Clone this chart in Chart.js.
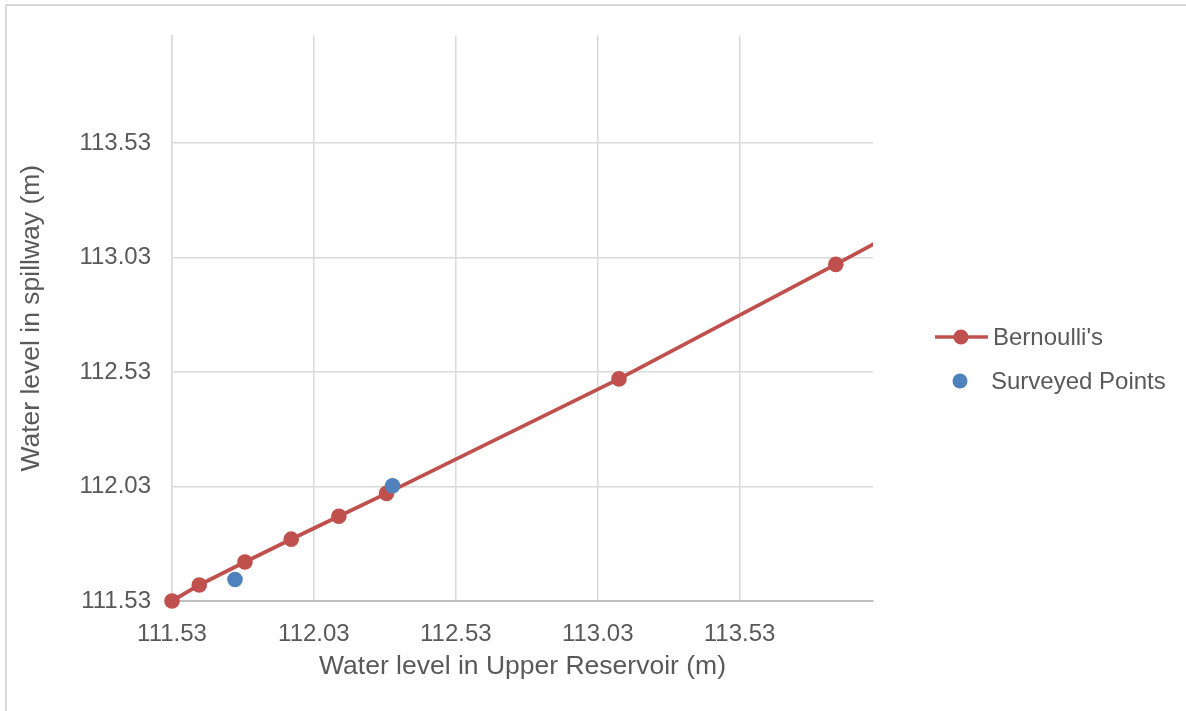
<!DOCTYPE html>
<html>
<head>
<meta charset="utf-8">
<script src="https://cdn.jsdelivr.net/npm/chart.js@4"></script>
<style>
  html, body { margin: 0; padding: 0; background: #fff; overflow: hidden; }
  #frame { position: absolute; left: 5px; top: 4px; width: 1200px; height: 720px;
           border-left: 2px solid #d9d9d9; border-top: 2px solid #d9d9d9; }
  #wrap { position: absolute; left: 0; top: 0; width: 1186px; height: 711px; }
</style>
</head>
<body>
<div id="frame"></div>
<div id="wrap"><canvas id="myChart"></canvas></div>
<script>
// Bernoulli's curve (last point lies beyond the axis, line runs to the edge)
const bernX = [111.53, 111.626, 111.787, 111.95, 112.118, 112.286, 113.105, 113.869, 114.62];
const bernY = [111.53, 111.6, 111.7, 111.8, 111.9, 112.0, 112.5, 113.0, 113.5];

// surveyed points
const surveyX = [111.752, 112.307];
const surveyY = [111.624, 112.033];

const tickValues = [111.53, 112.03, 112.53, 113.03, 113.53];
const axisMin = 111.53;
const axisMax = 114.0;

const textColor = '#595959';
const fontFamily = "'Liberation Sans', Arial, sans-serif";

function toPoints(xs, ys) {
    return xs.map((x, i) => ({ x: x, y: ys[i] }));
}

function setTicks(scale) {
    scale.ticks = tickValues.map(v => ({ value: v }));
}

// legend drawn at the right side, like Excel
const sideLegend = {
    id: 'sideLegend',
    afterDraw(chart) {
        const ctx = chart.ctx;
        const ds = chart.data.datasets;
        ctx.save();
        ctx.font = '24px ' + fontFamily;
        ctx.textBaseline = 'middle';
        ctx.fillStyle = textColor;

        // Bernoulli's: line with marker
        let y = 337;
        ctx.strokeStyle = ds[0].borderColor;
        ctx.lineWidth = 3.5;
        ctx.beginPath();
        ctx.moveTo(935, y);
        ctx.lineTo(988, y);
        ctx.stroke();
        ctx.fillStyle = ds[0].pointBackgroundColor;
        ctx.beginPath();
        ctx.arc(961, y, 7.5, 0, Math.PI * 2);
        ctx.fill();
        ctx.fillStyle = textColor;
        ctx.fillText(ds[0].label, 993, y + 1);

        // Surveyed Points: marker only
        y = 381;
        ctx.fillStyle = ds[1].pointBackgroundColor;
        ctx.beginPath();
        ctx.arc(960, y, 7.5, 0, Math.PI * 2);
        ctx.fill();
        ctx.fillStyle = textColor;
        ctx.fillText(ds[1].label, 991, y + 1);
        ctx.restore();
    }
};

const ctx = document.getElementById('myChart').getContext('2d');
const myChart = new Chart(ctx, {
    type: 'scatter',
    data: {
        datasets: [{
            label: "Bernoulli's",
            data: toPoints(bernX, bernY),
            showLine: true,
            borderColor: '#C0504D',
            backgroundColor: '#C0504D',
            pointBackgroundColor: '#C0504D',
            pointBorderColor: '#C0504D',
            borderWidth: 3.8,
            pointRadius: 7.8,
            pointBorderWidth: 0,
            clip: { left: 12, top: 0, right: 0, bottom: 12 },
            order: 2
        }, {
            label: 'Surveyed Points',
            data: toPoints(surveyX, surveyY),
            showLine: false,
            backgroundColor: '#4F81BD',
            pointBackgroundColor: '#4F81BD',
            borderColor: '#4F81BD',
            pointRadius: 7.8,
            pointBorderWidth: 0,
            clip: { left: 12, top: 0, right: 0, bottom: 12 },
            order: 1
        }]
    },
    options: {
        responsive: true,
        maintainAspectRatio: false,
        animation: false,
        layout: { padding: { top: 34, right: 313, left: 0, bottom: 0 } },
        plugins: {
            legend: { display: false },
            tooltip: { enabled: false }
        },
        scales: {
            x: {
                type: 'linear',
                min: axisMin,
                max: axisMax,
                afterBuildTicks: setTicks,
                afterFit(scale) { scale.height = 110; },
                grid: { color: '#d9d9d9', lineWidth: 1.5, drawTicks: false },
                border: { color: '#bfbfbf', width: 2 },
                ticks: {
                    color: textColor,
                    padding: 19,
                    maxRotation: 0,
                    font: { size: 24, family: fontFamily },
                    callback: v => Number(v).toFixed(2)
                },
                title: {
                    display: true,
                    text: 'Water level in Upper Reservoir (m)',
                    color: textColor,
                    font: { size: 26.5, family: fontFamily },
                    padding: { top: 0, bottom: 28 }
                }
            },
            y: {
                type: 'linear',
                min: axisMin,
                max: axisMax,
                afterBuildTicks: setTicks,
                afterFit(scale) { scale.width = 172; },
                grid: { color: '#d9d9d9', lineWidth: 1.5, drawTicks: false },
                border: { color: '#d9d9d9', width: 1.5 },
                ticks: {
                    color: textColor,
                    padding: 21,
                    font: { size: 24, family: fontFamily },
                    callback: v => Number(v).toFixed(2)
                },
                title: {
                    display: true,
                    text: 'Water level in spillway (m)',
                    color: textColor,
                    font: { size: 26.5, family: fontFamily },
                    padding: { top: 16, bottom: 0 }
                }
            }
        }
    },
    plugins: [sideLegend]
});
</script>
</body>
</html>
